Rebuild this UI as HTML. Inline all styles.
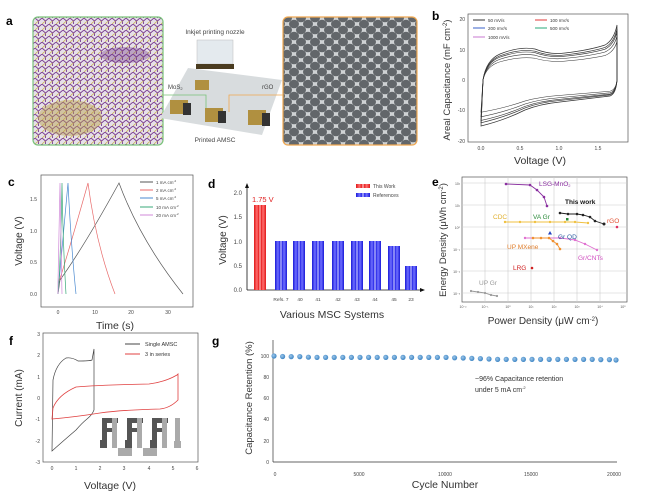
<!DOCTYPE html>
<html><head><meta charset="utf-8"><style>
html,body{margin:0;padding:0;background:#fff;}
svg{display:block;font-family:"Liberation Sans",sans-serif;}
.t{font-size:5px;fill:#444}
</style></head><body>
<svg width="649" height="496" viewBox="0 0 649 496" xmlns="http://www.w3.org/2000/svg">
<defs>
<pattern id="mos" width="7" height="6" patternUnits="userSpaceOnUse">
<rect width="7" height="6" fill="#e6e0e8"/>
<path d="M0 0 L3.5 3 L7 0 M3.5 3 L3.5 6" stroke="#7a3d92" stroke-width="0.9" fill="none"/>
<path d="M0 6 L3.5 3" stroke="#c8b04a" stroke-width="0.7"/>
</pattern>
<pattern id="hex" width="14" height="12" patternUnits="userSpaceOnUse">
<rect width="14" height="12" fill="#cfd2d4"/>
<ellipse cx="7" cy="6" rx="5" ry="4.3" fill="#62666a"/>
<ellipse cx="0" cy="0" rx="5" ry="4.3" fill="#62666a"/>
<ellipse cx="14" cy="0" rx="5" ry="4.3" fill="#62666a"/>
<ellipse cx="0" cy="12" rx="5" ry="4.3" fill="#62666a"/>
<ellipse cx="14" cy="12" rx="5" ry="4.3" fill="#62666a"/>
</pattern>
<linearGradient id="bb" x1="0" x2="1"><stop offset="0" stop-color="#1a1ad8"/><stop offset="0.25" stop-color="#7070ff"/><stop offset="0.4" stop-color="#2a2ae8"/><stop offset="0.5" stop-color="#c8c8ff"/><stop offset="0.6" stop-color="#2a2ae8"/><stop offset="0.75" stop-color="#7070ff"/><stop offset="1" stop-color="#1a1ad8"/></linearGradient>
<linearGradient id="rb" x1="0" x2="1"><stop offset="0" stop-color="#e01818"/><stop offset="0.25" stop-color="#ff7070"/><stop offset="0.4" stop-color="#e82020"/><stop offset="0.5" stop-color="#ffc0c0"/><stop offset="0.6" stop-color="#e82020"/><stop offset="0.75" stop-color="#ff7070"/><stop offset="1" stop-color="#e01818"/></linearGradient>
<radialGradient id="dot" cx="0.4" cy="0.4" r="0.6"><stop offset="0" stop-color="#9cc6ea"/><stop offset="1" stop-color="#3f86c4"/></radialGradient>
</defs>

<!-- Panel a -->
<text x="6" y="25" font-size="12" font-weight="bold">a</text>
<rect x="33" y="17" width="130" height="128" rx="5" fill="url(#mos)" stroke="#7ac27a" stroke-width="1.2"/>
<ellipse cx="70" cy="118" rx="32" ry="18" fill="#b8a04a" opacity="0.45"/>
<ellipse cx="125" cy="55" rx="25" ry="8" fill="#6a2f80" opacity="0.35"/>
<rect x="283" y="17" width="134" height="128" rx="5" fill="url(#hex)" stroke="#f0a850" stroke-width="1.2"/>
<text x="215" y="34" font-size="6.5" text-anchor="middle" fill="#444">Inkjet printing nozzle</text>
<rect x="197" y="40" width="36" height="24" fill="#e4eaee" stroke="#bbb" stroke-width="0.5"/>
<rect x="196" y="64" width="38" height="5" fill="#4a3c20"/>
<polygon points="160,118 188,68 282,80 262,135" fill="#d8dcde"/>
<text x="168" y="89" font-size="6" fill="#444">MoS<tspan font-size="4" dy="1">2</tspan></text>
<text x="262" y="89" font-size="6" fill="#444">rGO</text>
<path d="M163 95 L206 95 L206 113" stroke="#7ac27a" fill="none" stroke-width="0.8"/>
<path d="M283 95 L229 95 L229 112" stroke="#f0a850" fill="none" stroke-width="0.8"/>
<g fill="#b09040"><rect x="170" y="100" width="18" height="14"/><rect x="205" y="108" width="18" height="14"/><rect x="248" y="110" width="18" height="15"/><rect x="195" y="80" width="14" height="10"/></g>
<g fill="#333"><rect x="183" y="103" width="8" height="12"/><rect x="218" y="111" width="8" height="12"/><rect x="262" y="113" width="8" height="13"/></g>
<text x="215" y="142" font-size="6.5" text-anchor="middle" fill="#444">Printed AMSC</text>

<!-- Panel b -->
<text x="432" y="20" font-size="12" font-weight="bold">b</text>
<text transform="translate(450,80) rotate(-90)" font-size="9.5" text-anchor="middle" fill="#333">Areal Capacitance (mF cm<tspan font-size="6" dy="-3">-2</tspan><tspan dy="3">)</tspan></text>
<rect x="468" y="14" width="160" height="128" fill="none" stroke="#555" stroke-width="0.7"/>
<g class="t" text-anchor="end"><text x="465" y="21">20</text><text x="465" y="52">10</text><text x="465" y="82">0</text><text x="465" y="112">-10</text><text x="465" y="143">-20</text></g>
<g class="t" text-anchor="middle"><text x="481" y="150">0.0</text><text x="520" y="150">0.5</text><text x="559" y="150">1.0</text><text x="598" y="150">1.5</text></g>
<text x="540" y="164" font-size="10.5" text-anchor="middle" fill="#333">Voltage (V)</text>
<g fill="none" stroke-width="0.7">
<path id="cv" d="M481 126 L483 80 Q486 60 500 54 Q520 46 535 49 Q550 55 565 53 Q590 50 605 45 Q614 40 617 25 L617 80 Q616 94 610 96 Q585 99 560 102 Q540 104 525 110 Q505 120 481 126 Z" stroke="#333"/>
<use href="#cv" stroke="#e03a3a" transform="translate(0,5.6) scale(1,0.93)"/>
<use href="#cv" stroke="#3a60c8" transform="translate(0,9.6) scale(1,0.88)"/>
<use href="#cv" stroke="#28a878" transform="translate(0,16) scale(1,0.8)"/>
<use href="#cv" stroke="#c878d0" transform="translate(0,24) scale(1,0.7)"/>
</g>
<g font-size="4.5" fill="#333">
<line x1="473" y1="20" x2="485" y2="20" stroke="#333"/><text x="488" y="22">50 mV/s</text>
<line x1="535" y1="20" x2="547" y2="20" stroke="#e03a3a"/><text x="550" y="22">100 mV/s</text>
<line x1="473" y1="28" x2="485" y2="28" stroke="#3a60c8"/><text x="488" y="30">200 mV/s</text>
<line x1="535" y1="28" x2="547" y2="28" stroke="#28a878"/><text x="550" y="30">500 mV/s</text>
<line x1="473" y1="37" x2="485" y2="37" stroke="#c878d0"/><text x="488" y="39">1000 mV/s</text>
</g>

<!-- Panel c -->
<text x="8" y="186" font-size="12" font-weight="bold">c</text>
<text transform="translate(22,241) rotate(-90)" font-size="10" text-anchor="middle" fill="#333">Voltage (V)</text>
<rect x="41" y="175" width="152" height="132" fill="none" stroke="#555" stroke-width="0.7"/>
<g class="t" text-anchor="end"><text x="37" y="296">0.0</text><text x="37" y="264">0.5</text><text x="37" y="233">1.0</text><text x="37" y="201">1.5</text></g>
<g class="t" text-anchor="middle"><text x="58" y="314">0</text><text x="95" y="314">10</text><text x="131" y="314">20</text><text x="168" y="314">30</text></g>
<text x="115" y="329" font-size="10.5" text-anchor="middle" fill="#333">Time (s)</text>
<g fill="none" stroke-width="0.7">
<path d="M58 294 L60 280 Q85 245 119 183 Q140 240 183 294" stroke="#555"/>
<path d="M58 294 L59 282 Q72 240 88 183 Q96 245 115 294" stroke="#e86a6a"/>
<path d="M58 294 L59 282 Q63 240 68 183 Q71 245 76 294" stroke="#4a8ad0"/>
<path d="M58 294 L59 282 Q61 240 62 183 Q63 245 66 294" stroke="#3aa878"/>
<path d="M58 294 L58 282 Q59 240 60 183 Q61 245 62 294" stroke="#d088d8"/>
</g>
<g font-size="4.5" fill="#444">
<line x1="140" y1="182" x2="153" y2="182" stroke="#555"/><text x="156" y="184">1 mA cm<tspan font-size="3" dy="-2">-2</tspan></text>
<line x1="140" y1="190" x2="153" y2="190" stroke="#e86a6a"/><text x="156" y="192">2 mA cm<tspan font-size="3" dy="-2">-2</tspan></text>
<line x1="140" y1="198" x2="153" y2="198" stroke="#4a8ad0"/><text x="156" y="200">5 mA cm<tspan font-size="3" dy="-2">-2</tspan></text>
<line x1="140" y1="207" x2="153" y2="207" stroke="#3aa878"/><text x="156" y="209">10 mA cm<tspan font-size="3" dy="-2">-2</tspan></text>
<line x1="140" y1="215" x2="153" y2="215" stroke="#d088d8"/><text x="156" y="217">20 mA cm<tspan font-size="3" dy="-2">-2</tspan></text>
</g>

<!-- Panel d -->
<text x="208" y="188" font-size="12" font-weight="bold">d</text>
<text transform="translate(226,240) rotate(-90)" font-size="10" text-anchor="middle" fill="#333">Voltage (V)</text>
<line x1="247" y1="290" x2="247" y2="186" stroke="#111" stroke-width="0.8"/><polygon points="245,188 249,188 247,183" fill="#111"/>
<line x1="247" y1="290" x2="421" y2="290" stroke="#111" stroke-width="0.8"/><polygon points="420,288 420,292 425,290" fill="#111"/>
<g font-size="6" fill="#444" text-anchor="end"><text x="242" y="292">0.0</text><text x="242" y="268">0.5</text><text x="242" y="244">1.0</text><text x="242" y="219">1.5</text><text x="242" y="195">2.0</text></g>
<rect x="254" y="205" width="12" height="85" fill="url(#rb)"/>
<g fill="url(#bb)">
<rect x="275" y="241" width="12" height="49"/><rect x="293" y="241" width="12" height="49"/><rect x="312" y="241" width="12" height="49"/><rect x="332" y="241" width="12" height="49"/><rect x="351" y="241" width="12" height="49"/><rect x="369" y="241" width="12" height="49"/><rect x="388" y="246" width="12" height="44"/><rect x="405" y="266" width="12" height="24"/>
</g>
<text x="252" y="202" font-size="7.5" fill="#e02020">1.75 V</text>
<rect x="356" y="184" width="14" height="4" fill="url(#rb)"/><text x="373" y="188" font-size="5" fill="#444">This Work</text>
<rect x="356" y="193" width="14" height="4" fill="url(#bb)"/><text x="373" y="197" font-size="5" fill="#444">References</text>
<g font-size="4.8" fill="#444" text-anchor="middle"><text x="281" y="301">Refs. 7</text><text x="300" y="301">40</text><text x="318" y="301">41</text><text x="338" y="301">42</text><text x="357" y="301">43</text><text x="375" y="301">44</text><text x="394" y="301">45</text><text x="411" y="301">23</text></g>
<text x="332" y="318" font-size="10.5" text-anchor="middle" fill="#333">Various MSC Systems</text>

<!-- Panel e -->
<text x="432" y="186" font-size="12" font-weight="bold">e</text>
<text transform="translate(446,240) rotate(-90)" font-size="9.5" text-anchor="middle" fill="#333">Energy Density (μWh cm<tspan font-size="6" dy="-3">-2</tspan><tspan dy="3">)</tspan></text>
<rect x="462" y="177" width="165" height="125" fill="#fff" stroke="#555" stroke-width="0.7"/>
<g stroke="#ccc" stroke-width="0.6">
<line x1="485" y1="177" x2="485" y2="302"/><line x1="508" y1="177" x2="508" y2="302"/><line x1="531" y1="177" x2="531" y2="302"/><line x1="554" y1="177" x2="554" y2="302"/><line x1="577" y1="177" x2="577" y2="302"/><line x1="600" y1="177" x2="600" y2="302"/>
<line x1="462" y1="183" x2="627" y2="183"/><line x1="462" y1="205" x2="627" y2="205"/><line x1="462" y1="227" x2="627" y2="227"/><line x1="462" y1="249" x2="627" y2="249"/><line x1="462" y1="271" x2="627" y2="271"/><line x1="462" y1="293" x2="627" y2="293"/>
</g>
<g font-size="3.5" fill="#555" text-anchor="middle"><text x="463" y="308">10⁻²</text><text x="485" y="308">10⁻¹</text><text x="508" y="308">10⁰</text><text x="531" y="308">10¹</text><text x="554" y="308">10²</text><text x="577" y="308">10³</text><text x="600" y="308">10⁴</text><text x="623" y="308">10⁵</text></g>
<g font-size="3.5" fill="#555" text-anchor="end"><text x="460" y="185">10²</text><text x="460" y="207">10¹</text><text x="460" y="229">10⁰</text><text x="460" y="251">10⁻¹</text><text x="460" y="273">10⁻²</text><text x="460" y="295">10⁻³</text></g>
<g stroke-width="0.9" fill="none">
<polyline points="506,184 530,185 537,190 544,197 547,206" stroke="#8a2fa0"/>
<polyline points="560,213 568,214 577,214 583,215 590,217 595,221 604,224" stroke="#222"/>
<polyline points="505,222 515,222 525,222 535,222 545,222 555,222 565,222 575,222 588,223" stroke="#f0c040"/>
<polyline points="525,238 540,238 550,238 560,238 568,239 575,240 585,244 597,250" stroke="#e070d0"/>
<polyline points="533,238 541,238 549,238 553,241 557,244 560,249" stroke="#f09030"/>
<polyline points="471,291 478,292 485,293 491,295 497,296" stroke="#999"/>
</g>
<g fill="#8a2fa0"><circle cx="506" cy="184" r="1.3"/><circle cx="530" cy="185" r="1.3"/><circle cx="537" cy="190" r="1.3"/><circle cx="544" cy="197" r="1.3"/><circle cx="547" cy="206" r="1.3"/></g>
<g fill="#222"><circle cx="560" cy="213" r="1.3"/><circle cx="568" cy="214" r="1.3"/><circle cx="577" cy="214" r="1.3"/><circle cx="583" cy="215" r="1.3"/><circle cx="590" cy="217" r="1.3"/><circle cx="595" cy="221" r="1.3"/><circle cx="604" cy="224" r="1.5"/></g>
<g fill="#f0c040"><circle cx="505" cy="222" r="1.2"/><circle cx="520" cy="222" r="1.2"/><circle cx="535" cy="222" r="1.2"/><circle cx="550" cy="222" r="1.2"/><circle cx="565" cy="222" r="1.2"/><circle cx="575" cy="222" r="1.2"/><circle cx="588" cy="223" r="1.2"/></g>
<g fill="#e070d0"><circle cx="525" cy="238" r="1.2"/><circle cx="560" cy="238" r="1.2"/><circle cx="575" cy="240" r="1.2"/><circle cx="585" cy="244" r="1.2"/><circle cx="597" cy="250" r="1.2"/></g>
<g fill="#f09030"><circle cx="533" cy="238" r="1.3"/><circle cx="541" cy="238" r="1.3"/><circle cx="549" cy="238" r="1.3"/><circle cx="553" cy="241" r="1.3"/><circle cx="557" cy="244" r="1.3"/><circle cx="560" cy="249" r="1.3"/></g>
<g fill="#999"><circle cx="471" cy="291" r="1.1"/><circle cx="478" cy="292" r="1.1"/><circle cx="485" cy="293" r="1.1"/><circle cx="491" cy="295" r="1.1"/><circle cx="497" cy="296" r="1.1"/></g>
<rect x="566" y="218" width="2.5" height="2.5" fill="#2a8a3a"/>
<polygon points="550,231 552,234.5 548,234.5" fill="#2040c0"/>
<circle cx="532" cy="268" r="1.3" fill="#d02020"/>
<circle cx="617" cy="227" r="1.3" fill="#e03060"/>
<g font-size="6.5">
<text x="539" y="186" fill="#8a2fa0">LSG-MnO<tspan font-size="4" dy="1">2</tspan></text>
<text x="565" y="204" fill="#111" font-weight="bold">This work</text>
<text x="493" y="219" fill="#e0b030">CDC</text>
<text x="533" y="219" fill="#2a8a3a">VA Gr</text>
<text x="607" y="223" fill="#e05030">rGO</text>
<text x="558" y="239" fill="#2a5aa0">Gr QD</text>
<text x="507" y="249" fill="#e08030">UP MXene</text>
<text x="578" y="260" fill="#d050c0">Gr/CNTs</text>
<text x="513" y="270" fill="#d02020">LRG</text>
<text x="479" y="285" fill="#999">UP Gr</text>
</g>
<text x="543" y="324" font-size="10" text-anchor="middle" fill="#333">Power Density (μW cm<tspan font-size="6" dy="-3">-2</tspan><tspan dy="3">)</tspan></text>

<!-- Panel f -->
<text x="9" y="345" font-size="12" font-weight="bold">f</text>
<text transform="translate(22,398) rotate(-90)" font-size="10" text-anchor="middle" fill="#333">Current (mA)</text>
<rect x="43" y="333" width="155" height="129" fill="none" stroke="#555" stroke-width="0.7"/>
<g class="t" text-anchor="end" font-size="4"><text x="40" y="336">3</text><text x="40" y="357">2</text><text x="40" y="379">1</text><text x="40" y="400">0</text><text x="40" y="421">-1</text><text x="40" y="443">-2</text><text x="40" y="464">-3</text></g>
<g class="t" text-anchor="middle" font-size="4"><text x="52" y="470">0</text><text x="76" y="470">1</text><text x="100" y="470">2</text><text x="124" y="470">3</text><text x="149" y="470">4</text><text x="173" y="470">5</text><text x="197" y="470">6</text></g>
<path d="M52 451 L53 380 Q56 364 66 358 Q72 357 78 361 Q90 361 92 360 L94 349 L94 410 Q92 415 87 419 Q82 423 76 430 Q62 442 52 451 Z" fill="none" stroke="#444" stroke-width="0.7"/>
<path d="M52 419 L53 408 Q58 395 76 387 Q100 385 149 384 Q165 382 177 375 L178 374 L178 400 Q170 408 160 409 Q120 410 100 413 Q75 417 52 419 Z" fill="none" stroke="#e04040" stroke-width="0.8"/>
<line x1="125" y1="344" x2="140" y2="344" stroke="#444"/><text x="145" y="346" font-size="5.5" fill="#333">Single AMSC</text>
<line x1="125" y1="354" x2="140" y2="354" stroke="#e04040"/><text x="145" y="356" font-size="5.5" fill="#333">3 in series</text>
<g fill="#555"><rect x="102" y="418" width="16" height="5"/><rect x="102" y="418" width="5" height="30"/><rect x="102" y="428" width="14" height="4"/><rect x="127" y="418" width="16" height="5"/><rect x="127" y="418" width="5" height="30"/><rect x="127" y="428" width="14" height="4"/><rect x="152" y="418" width="16" height="5"/><rect x="152" y="418" width="5" height="30"/><rect x="152" y="428" width="14" height="4"/><rect x="100" y="440" width="7" height="8"/><rect x="125" y="440" width="7" height="8"/><rect x="150" y="440" width="7" height="8"/></g>
<g fill="#aaa"><rect x="112" y="418" width="5" height="30"/><rect x="137" y="418" width="5" height="30"/><rect x="162" y="418" width="5" height="30"/><rect x="175" y="418" width="5" height="30"/><rect x="118" y="448" width="14" height="8"/><rect x="143" y="448" width="14" height="8"/><rect x="174" y="441" width="7" height="7"/></g>
<text x="110" y="489" font-size="10.5" text-anchor="middle" fill="#333">Voltage (V)</text>

<!-- Panel g -->
<text x="212" y="345" font-size="12" font-weight="bold">g</text>
<text transform="translate(252,398) rotate(-90)" font-size="9.5" text-anchor="middle" fill="#333">Capacitance Retention (%)</text>
<line x1="273" y1="340" x2="273" y2="462" stroke="#333" stroke-width="0.7"/>
<line x1="273" y1="462" x2="617" y2="462" stroke="#333" stroke-width="0.7"/>
<g class="t" text-anchor="end" font-size="4.5"><text x="269" y="464">0</text><text x="269" y="443">20</text><text x="269" y="421">40</text><text x="269" y="400">60</text><text x="269" y="379">80</text><text x="269" y="358">100</text></g>
<g class="t" text-anchor="middle" font-size="4.5"><text x="275" y="476">0</text><text x="359" y="476">5000</text><text x="445" y="476">10000</text><text x="531" y="476">15000</text><text x="614" y="476">20000</text></g>
<g fill="url(#dot)">
<circle cx="274" cy="356" r="2.6"/><circle cx="282.6" cy="356.5" r="2.6"/><circle cx="291.2" cy="356.6" r="2.6"/><circle cx="299.8" cy="356.6" r="2.6"/><circle cx="308.4" cy="357.2" r="2.6"/><circle cx="317" cy="357.4" r="2.6"/><circle cx="325.6" cy="357.4" r="2.6"/><circle cx="334.2" cy="357.4" r="2.6"/><circle cx="342.8" cy="357.4" r="2.6"/><circle cx="351.4" cy="357.4" r="2.6"/><circle cx="360" cy="357.4" r="2.6"/><circle cx="368.6" cy="357.4" r="2.6"/><circle cx="377.2" cy="357.4" r="2.6"/><circle cx="385.8" cy="357.4" r="2.6"/><circle cx="394.4" cy="357.4" r="2.6"/><circle cx="403" cy="357.4" r="2.6"/><circle cx="411.6" cy="357.4" r="2.6"/><circle cx="420.2" cy="357.4" r="2.6"/><circle cx="428.8" cy="357.4" r="2.6"/><circle cx="437.4" cy="357.4" r="2.6"/><circle cx="446" cy="357.4" r="2.6"/><circle cx="454.6" cy="357.8" r="2.6"/><circle cx="463.2" cy="358" r="2.6"/><circle cx="471.8" cy="358.4" r="2.6"/><circle cx="480.4" cy="358.6" r="2.6"/><circle cx="489" cy="359" r="2.6"/><circle cx="497.6" cy="359.4" r="2.6"/><circle cx="506.2" cy="359.4" r="2.6"/><circle cx="514.8" cy="359.4" r="2.6"/><circle cx="523.4" cy="359.4" r="2.6"/><circle cx="532" cy="359.4" r="2.6"/><circle cx="540.6" cy="359.4" r="2.6"/><circle cx="549.2" cy="359.4" r="2.6"/><circle cx="557.8" cy="359.4" r="2.6"/><circle cx="566.4" cy="359.4" r="2.6"/><circle cx="575" cy="359.4" r="2.6"/><circle cx="583.6" cy="359.4" r="2.6"/><circle cx="592.2" cy="359.4" r="2.6"/><circle cx="600.8" cy="359.6" r="2.6"/><circle cx="609.4" cy="359.6" r="2.6"/><circle cx="616" cy="360" r="2.6"/>
</g>
<text x="475" y="381" font-size="7" fill="#333">~96% Capacitance retention</text>
<text x="475" y="392" font-size="7" fill="#333">under 5 mA cm<tspan font-size="4" dy="-3">-2</tspan></text>
<text x="445" y="488" font-size="10.5" text-anchor="middle" fill="#333">Cycle Number</text>
</svg>
</body></html>
